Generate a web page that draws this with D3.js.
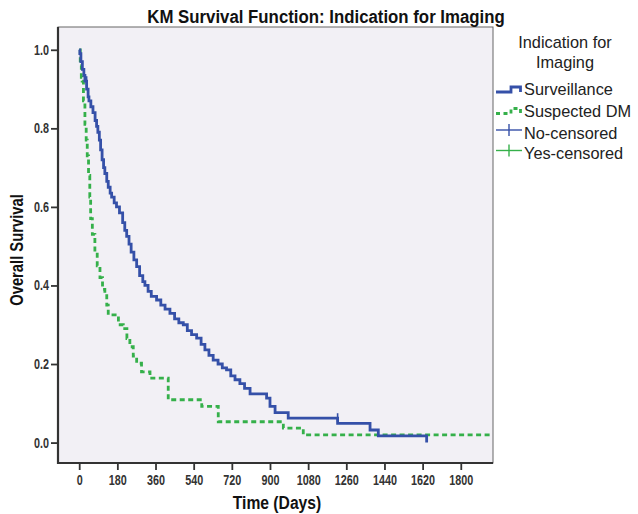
<!DOCTYPE html>
<html>
<head>
<meta charset="utf-8">
<script src="https://cdn.jsdelivr.net/npm/d3@7/dist/d3.min.js"></script>
<style>
  html, body { margin: 0; padding: 0; background: #fff; }
  svg text { font-family: "Liberation Sans", Arial, sans-serif; }
</style>
</head>
<body>
<svg id="km" width="638" height="514"></svg>
<script>
"use strict";

// ─────────────────────────────────────────
// Data
// ─────────────────────────────────────────
const groupNames = ["Surveillance", "Suspected DM"];
const censorNames = ["No-censored", "Yes-censored"];

// Surveillance: step times (days) and survival after each step
const survTimes = [0, 3, 8, 15, 22, 27, 35, 42, 46, 55, 65, 75, 82, 88, 95, 101, 108, 115, 121, 130,
  137, 146, 153, 165, 176, 190, 205, 215, 224, 235, 245, 258, 271, 285, 300, 310, 325, 340, 365, 385,
  405, 428, 450, 470, 491, 510, 530, 554, 575, 593, 612, 632, 655, 675, 695, 715, 735, 758, 780, 806,
  884, 900, 924, 986, 1219, 1372, 1411, 1639];
const survProbs = [1.0, 0.99, 0.97, 0.95, 0.935, 0.92, 0.90, 0.88, 0.87, 0.855, 0.84, 0.82, 0.805, 0.79, 0.77, 0.745, 0.72, 0.70, 0.685, 0.665,
  0.65, 0.635, 0.625, 0.61, 0.60, 0.585, 0.56, 0.54, 0.525, 0.505, 0.485, 0.465, 0.448, 0.425, 0.41, 0.40, 0.385, 0.372, 0.363, 0.35,
  0.34, 0.329, 0.315, 0.305, 0.30, 0.285, 0.275, 0.266, 0.25, 0.236, 0.222, 0.21, 0.20, 0.19, 0.185, 0.17, 0.16, 0.15, 0.138, 0.124,
  0.113, 0.092, 0.076, 0.062, 0.049, 0.032, 0.017, 0.0];

// Suspected DM
const dmTimes = [0, 5, 10, 14, 20, 27, 33, 38, 44, 50, 54, 62, 74, 85, 98, 110, 121, 130, 137, 185,
  208, 225, 239, 255, 271, 294, 334, 420, 578, 656, 963, 1057, 1945];
const dmProbs = [1.0, 0.96, 0.93, 0.92, 0.87, 0.81, 0.77, 0.73, 0.68, 0.625, 0.57, 0.53, 0.485, 0.45, 0.42, 0.39, 0.38, 0.35, 0.325, 0.30,
  0.29, 0.265, 0.244, 0.22, 0.202, 0.18, 0.164, 0.109, 0.092, 0.053, 0.037, 0.0196, 0.0196];

// censored observations (Surveillance)
const survCensorTimes = [35, 1219];
const survCensorProbs = [0.92, 0.062];

const xTicks = [0, 180, 360, 540, 720, 900, 1080, 1260, 1440, 1620, 1800];
const yTicks = [0.0, 0.2, 0.4, 0.6, 0.8, 1.0];

// ─────────────────────────────────────────
// Layout / style
// ─────────────────────────────────────────
const PLOT = { left: 58, right: 493, top: 27, bottom: 463 };
const COLOR_SURV = "#3550a8";
const COLOR_DM = "#35b04a";
const COLOR_BG = "#f2f0f5";

const svg = d3.select("#km");

// the source figure is squashed sideways, so its text looks condensed
function narrow(sel, k) {
  sel.each(function () {
    const len = this.getComputedTextLength();
    d3.select(this)
      .attr("textLength", (len * k).toFixed(1))
      .attr("lengthAdjust", "spacingAndGlyphs");
  });
  return sel;
}

const x = d3.scaleLinear().domain([-100, 1952]).range([PLOT.left, PLOT.right]);
const y = d3.scaleLinear().domain([-0.052, 1.058]).range([PLOT.bottom, PLOT.top]);

// plot background + thin top/right frame
svg.append("rect")
  .attr("x", PLOT.left).attr("y", PLOT.top)
  .attr("width", PLOT.right - PLOT.left).attr("height", PLOT.bottom - PLOT.top)
  .attr("fill", COLOR_BG).attr("stroke", "#666").attr("stroke-width", 1);

// ─────────────────────────────────────────
// Axes
// ─────────────────────────────────────────
const yAxis = svg.append("g")
  .attr("transform", `translate(${PLOT.left},0)`)
  .call(d3.axisLeft(y).tickValues(yTicks).tickFormat(d3.format(".1f")).tickSize(7).tickSizeOuter(0).tickPadding(2));

const xAxis = svg.append("g")
  .attr("transform", `translate(0,${PLOT.bottom})`)
  .call(d3.axisBottom(x).tickValues(xTicks).tickFormat(d3.format("d")).tickSize(7).tickSizeOuter(0).tickPadding(5));

[xAxis, yAxis].forEach(g => {
  g.select(".domain").attr("stroke", "#333").attr("stroke-width", 2.2);
  g.selectAll(".tick line").attr("stroke", "#333").attr("stroke-width", 1.8);
  g.selectAll(".tick text")
    .attr("font-family", null)
    .attr("font-size", 14).attr("font-weight", "bold").attr("fill", "#333")
    .call(narrow, 0.77);
});
// make the domain lines span the whole frame
yAxis.select(".domain").attr("d", `M0,${PLOT.top}V${PLOT.bottom + 1}`);
xAxis.select(".domain").attr("d", `M${PLOT.left - 1},0H${PLOT.right}`);

// ─────────────────────────────────────────
// KM step curves
// ─────────────────────────────────────────
const stepLine = d3.line()
  .x(d => x(d[0]))
  .y(d => y(d[1]))
  .curve(d3.curveStepAfter);

const survData = d3.zip(survTimes, survProbs);
const dmData = d3.zip(dmTimes, dmProbs);

svg.append("path")
  .datum(dmData)
  .attr("d", stepLine)
  .attr("fill", "none")
  .attr("stroke", COLOR_DM)
  .attr("stroke-width", 2.8)
  .attr("stroke-dasharray", "5,3.5");

svg.append("path")
  .datum(survData)
  .attr("d", stepLine)
  .attr("fill", "none")
  .attr("stroke", COLOR_SURV)
  .attr("stroke-width", 2.8);

// censor ticks
svg.selectAll(".censor")
  .data(d3.zip(survCensorTimes, survCensorProbs))
  .join("line")
  .attr("class", "censor")
  .attr("x1", d => x(d[0])).attr("x2", d => x(d[0]))
  .attr("y1", d => y(d[1]) - 5).attr("y2", d => y(d[1]) + 4)
  .attr("stroke", COLOR_SURV).attr("stroke-width", 1.6);

// ─────────────────────────────────────────
// Titles
// ─────────────────────────────────────────
svg.append("text")
  .attr("x", 326).attr("y", 23)
  .attr("text-anchor", "middle")
  .attr("font-size", 17.5).attr("font-weight", "bold").attr("fill", "#111")
  .text("KM Survival Function: Indication for Imaging")
  .call(narrow, 0.96);

svg.append("text")
  .attr("x", 277).attr("y", 509)
  .attr("text-anchor", "middle")
  .attr("font-size", 18).attr("font-weight", "bold").attr("fill", "#111")
  .text("Time (Days)")
  .call(narrow, 0.87);

svg.append("text")
  .attr("transform", "translate(23,250) rotate(-90)")
  .attr("text-anchor", "middle")
  .attr("font-size", 18).attr("font-weight", "bold").attr("fill", "#111")
  .text("Overall Survival")
  .call(narrow, 0.82);

// ─────────────────────────────────────────
// Legend
// ─────────────────────────────────────────
const legend = svg.append("g").attr("font-size", 17).attr("fill", "#222");

legend.append("text").attr("x", 565).attr("y", 48).attr("text-anchor", "middle").text("Indication for").call(narrow, 0.96);
legend.append("text").attr("x", 565).attr("y", 68).attr("text-anchor", "middle").text("Imaging").call(narrow, 0.96);

const legendRows = [
  { name: groupNames[0], y: 95, kind: "step", color: COLOR_SURV, dash: null },
  { name: groupNames[1], y: 116.5, kind: "step", color: COLOR_DM, dash: "4,3.5" },
  { name: censorNames[0], y: 138.5, kind: "censor", color: COLOR_SURV },
  { name: censorNames[1], y: 159, kind: "censor", color: COLOR_DM }
];

legendRows.forEach(r => {
  if (r.kind === "step") {
    const base = r.y - 3;
    legend.append("path")
      .attr("d", `M496,${base}H511V${base - 5}H520.5V${base}`)
      .attr("fill", "none").attr("stroke", r.color).attr("stroke-width", 2.8)
      .attr("stroke-dasharray", r.dash);
  } else {
    const cy = r.y - 8.5;
    legend.append("line")
      .attr("x1", 496).attr("x2", 522).attr("y1", cy).attr("y2", cy)
      .attr("stroke", r.color).attr("stroke-width", 1.4);
    legend.append("line")
      .attr("x1", 509).attr("x2", 509).attr("y1", cy - 6).attr("y2", cy + 6)
      .attr("stroke", r.color).attr("stroke-width", 1.4);
  }
  legend.append("text").attr("x", 524).attr("y", r.y).text(r.name).call(narrow, 0.96);
});
</script>
</body>
</html>
